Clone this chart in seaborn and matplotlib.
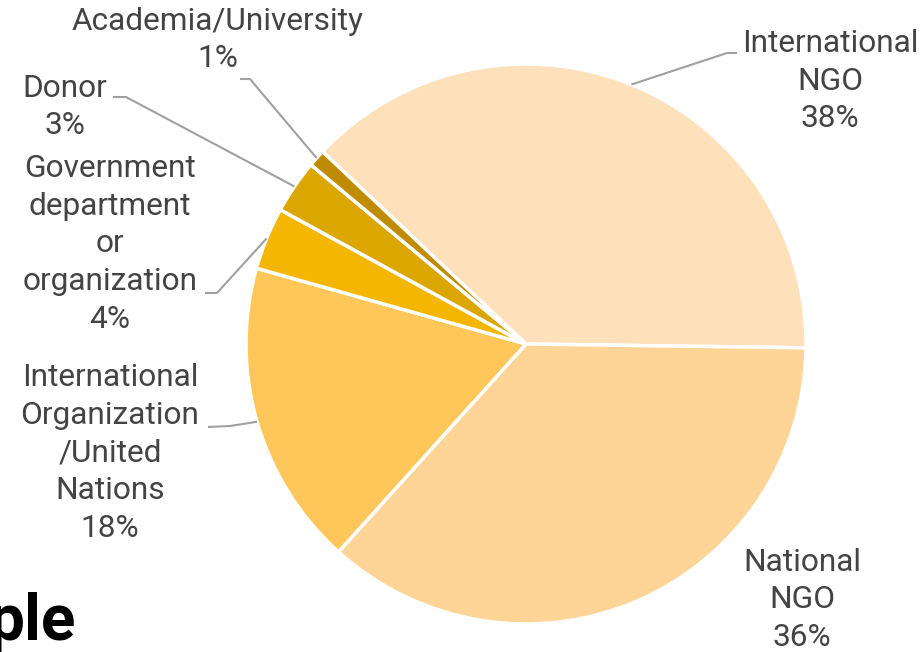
import seaborn as sns
import matplotlib.pyplot as plt
import numpy as np

# share of respondents by organisation type
categories = ['International\nNGO', 'National\nNGO',
              'International\nOrganization\n/United\nNations',
              'Government\ndepartment\nor\norganization',
              'Donor', 'Academia/University']
shares = [38.2, 36.5, 17.7, 3.6, 3.1, 1.0]
pct_labels = ['38%', '36%', '18%', '4%', '3%', '1%']
colors = ['#FEE0BA', '#FFD597', '#FFC65A', '#F4B601', '#DBA600', '#BF8B00']

sns.set_theme(style='white')
plt.rcParams['font.family'] = ['Roboto', 'DejaVu Sans']

W, H = 922, 652
fig = plt.figure(figsize=(W / 100, H / 100), dpi=100)
ax = fig.add_axes([0, 0, 1, 1])

# pie centre / radius in pixels, axes in units of radius
cx, cy, r = 526, 344, 280
def px(x, y):
    return (x - cx) / r, (cy - y) / r

wedges, _ = ax.pie(shares, colors=colors, startangle=136.6, counterclock=False,
                   radius=1, wedgeprops=dict(edgecolor='white', linewidth=2.5))
ax.set_xlim(px(0, 0)[0], px(W, 0)[0])
ax.set_ylim(px(0, H)[1], px(0, 0)[1])
ax.set_aspect('auto')
ax.axis('off')

# label centre, leader elbow, leader end (px)
label_pos = [(830, 81), (802, 600), (110, 453), (110, 244), (65, 107), (218, 40)]
elbows = [((727, 53), (737, 53)), None, ((230, 426), (208, 427)),
          ((217, 293), (205, 293)), ((126, 97), (113, 97)), ((250, 79), (240, 79))]

for w, cat, pct, pos, elb in zip(wedges, categories, pct_labels, label_pos, elbows):
    tx, ty = px(*pos)
    ax.text(tx, ty, cat + '\n' + pct, ha='center', va='center', fontsize=22.8,
            color='#444444', linespacing=1.39)
    if elb is not None:
        mid = np.deg2rad((w.theta1 + w.theta2) / 2)
        p0 = (np.cos(mid), np.sin(mid))
        p1 = px(*elb[0])
        p2 = px(*elb[1])
        ax.plot([p0[0], p1[0], p2[0]], [p0[1], p1[1], p2[1]], color='#A0A0A0', lw=1.5,
                solid_capstyle='butt')

# clipped title fragment at bottom left
fig.text(-0.012, 1 - 640 / H, 'ple', fontsize=46, fontweight='bold', color='black',
         ha='left', va='baseline')

fig.savefig('out.png', dpi=100)
